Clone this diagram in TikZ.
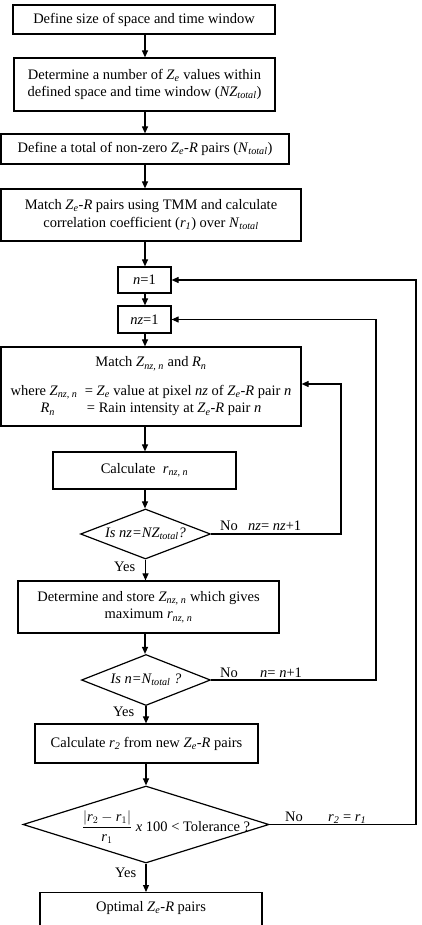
\documentclass[tikz,border=0pt]{standalone}
\usepackage{fontspec}
\setmainfont{Liberation Serif}
\usetikzlibrary{shapes.geometric,arrows.meta}
\newcommand{\sbs}[1]{\textsubscript{\textit{#1}}}
\newcommand{\ZeR}{\textit{Z}\sbs{e}-\textit{R}}
\begin{document}
\begin{tikzpicture}[x=1pt,y=-1pt,
  font=\fontsize{14.5}{17.5}\selectfont,
  box/.style={draw, line width=1.2pt, inner sep=0pt, align=center},
  dia/.style={draw, diamond, line width=1.2pt, inner sep=0pt},
  arr/.style={line width=1.1pt, -{Triangle[length=7pt,width=6pt]}},
  lbl/.style={inner sep=0pt, anchor=base west}]
\useasboundingbox (0,0) rectangle (421,925);
\clip (0,0) rectangle (421,925);
\coordinate (ax) at (145,0);
\coordinate (l1) at (341,0);
\coordinate (l2) at (376,0);
\coordinate (l3) at (416,0);

\node[box, minimum width=262pt, minimum height=29pt] (b1) at (144,19.5)
  {Define size of space and time window};
\node[box, minimum width=261pt, minimum height=53pt] (b2) at (144.5,84.5)
  {Determine a number of \textit{Z}\sbs{e} values within\\defined space and time window (\textit{NZ}\sbs{total})};
\node[box, minimum width=288pt, minimum height=30pt] (b3) at (145,149)
  {Define a total of non-zero \ZeR{} pairs (\textit{N}\sbs{total})};
\node[box, minimum width=300pt, minimum height=52pt] (b4) at (151,215)
  {Match \ZeR{} pairs using TMM and calculate\\correlation coefficient (\textit{r}\sbs{1}) over \textit{N}\sbs{total}};
\node[box, minimum width=53pt, minimum height=26pt] (n1) at (144.5,280) {\textit{n}=1};
\node[box, minimum width=53pt, minimum height=27pt] (nz1) at (144.5,319.5) {\textit{nz}=1};
\node[box, minimum width=300pt, minimum height=79pt] (match) at (151,386.5)
  {Match \textit{Z}\sbs{nz, n} and \textit{R}\sbs{n}\\[11pt]
   where \textit{Z}\sbs{nz, n} \ = \textit{Z}\sbs{e} value at pixel \textit{nz} of \ZeR{} pair \textit{n}\\
   \textit{R}\sbs{n}\hspace{2.2em}= Rain intensity at \ZeR{} pair \textit{n}};
\coordinate (mIn) at ([yshift=2.5pt]match.east);
\node[box, minimum width=183pt, minimum height=37pt] (calc) at (144.5,470.5)
  {Calculate \ \textit{r}\sbs{nz, n}};
\node[dia, minimum width=130pt, minimum height=50pt] (d1) at (145.5,534) {};
\node[inner sep=0pt] (d1t) at (d1.center) {\textit{Is nz=NZ\sbs{total}?}};
\node[box, minimum width=261pt, minimum height=52pt] (det) at (148.5,607)
  {Determine and store \textit{Z}\sbs{nz, n} which gives\\maximum \textit{r}\sbs{nz, n}};
\node[dia, minimum width=129pt, minimum height=51pt] (d2) at (146,680) {};
\node[inner sep=0pt] (d2t) at (d2.center) {\textit{Is n=N\sbs{total} ?}};
\node[box, minimum width=223pt, minimum height=39pt] (r2) at (146.5,743.5)
  {Calculate \textit{r}\sbs{2} from new \ZeR{} pairs};
\node[dia, minimum width=246pt, minimum height=77pt] (d3) at (146,824.5) {};
\node[inner sep=0pt] (d3t) at (166,827)
  {$\displaystyle\frac{|\textit{r}_2-\textit{r}_1|}{\textit{r}_1}$ \textit{x} 100 < Tolerance ?};
\node[box, anchor=north, minimum width=222pt, inner xsep=0pt, inner ysep=9pt,
  text height=10pt, text depth=40pt] (opt) at (151,892)
  {Optimal \ZeR{} pairs};

% main flow
\draw[arr] (b1.south -| ax) -- (b2.north -| ax);
\draw[arr] (b2.south -| ax) -- (b3.north -| ax);
\draw[arr] (b3.south -| ax) -- (b4.north -| ax);
\draw[arr] (b4.south -| ax) -- (n1.north -| ax);
\draw[arr] (n1.south -| ax) -- (nz1.north -| ax);
\draw[arr] (nz1.south -| ax) -- (match.north -| ax);
\draw[arr] (match.south -| ax) -- (calc.north -| ax);
\draw[arr] (calc.south -| ax) -- (d1.north -| ax);
\draw[arr] (d1.south) -- (d1.south |- det.north);
\draw[arr] (det.south -| ax) -- (d2.north -| ax);
\draw[arr] (d2.south) -- (d2.south |- r2.north);
\draw[arr] (r2.south -| d3.north) -- (d3.north);
\draw[arr] (d3.south) -- (d3.south |- opt.north);

% loops
\draw[arr] (d1.east) -- (d1.east -| l1) -- (l1 |- mIn) -- (mIn);
\draw[arr] (d2.east) -- (d2.east -| l2) -- (l2 |- nz1.east) -- (nz1.east);
\draw[arr] (d3.east) -- (d3.east -| l3) -- (l3 |- n1.east) -- (n1.east);

% labels
\node[lbl] (y1) at (114,571) {Yes};
\node[lbl] (y2) at (113,716) {Yes};
\node[lbl] (y3) at (115,877) {Yes};
\node[lbl] (no1) at (220,530) {No};
\node[lbl] (in1) at (248,530) {\textit{nz}= \textit{nz}+1};
\node[lbl] (no2) at (220,677) {No};
\node[lbl] (in2) at (260,677) {\textit{n}= \textit{n}+1};
\node[lbl] (no3) at (285,821) {No};
\node[lbl] (in3) at (328,821) {\textit{r}\sbs{2} = \textit{r}\sbs{1}};
\end{tikzpicture}
\end{document}
